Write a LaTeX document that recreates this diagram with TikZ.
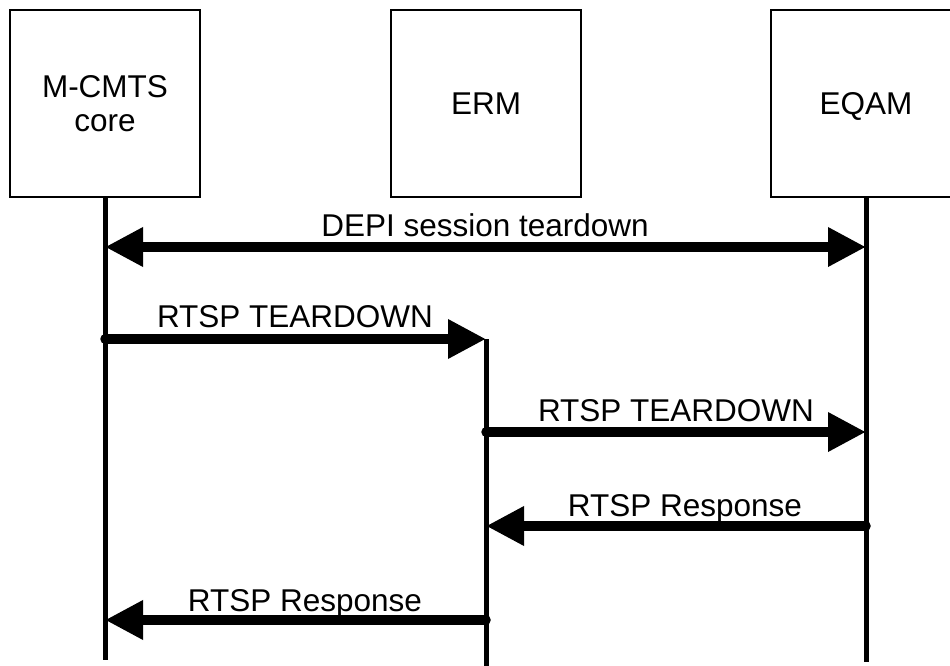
\documentclass[tikz,border=0pt]{standalone}
\usepackage{fontspec}
\setmainfont{Liberation Sans}
\usetikzlibrary{arrows.meta}
\begin{document}
\begin{tikzpicture}[x=1pt,y=-1pt,
  actor/.style={draw, line width=2pt, minimum width=190pt, minimum height=187pt, inner sep=0pt, align=center, font=\fontsize{31.5}{34}\selectfont},
  life/.style={line width=5pt},
  msg/.style={line width=9.5pt, line cap=round, -{Triangle[length=38pt,width=37pt]}},
  both/.style={line width=9.5pt, {Triangle[length=38pt,width=37pt]}-{Triangle[length=38pt,width=37pt]}},
  lbl/.style={anchor=base, font=\fontsize{31.5}{34}\selectfont, inner sep=0pt}]
\useasboundingbox (0,0) rectangle (950,666);
\node[actor] (cmts) at (105,103.5) {M-CMTS\\core};
\node[actor, text depth=0pt] (erm) at (486,103.5) {ERM};
\node[actor, text depth=0pt] (eqam) at (866,103.5) {EQAM};
% lifeline ends
\coordinate (cmtsTop) at (105,197);
\coordinate (cmtsBot) at (105,660);
\coordinate (ermTop) at (486,339);
\coordinate (ermBot) at (486,666);
\coordinate (eqamTop) at (866,197);
\coordinate (eqamBot) at (866,662);
\draw[life] (cmtsTop) -- (cmtsBot);
\draw[life] (ermTop) -- (ermBot);
\draw[life] (eqamTop) -- (eqamBot);
% message endpoints
\coordinate (a1) at (105,247); \coordinate (b1) at (866,247);
\coordinate (a2) at (105,339); \coordinate (b2) at (486,339);
\coordinate (a3) at (486,432); \coordinate (b3) at (866,432);
\coordinate (a4) at (866,526); \coordinate (b4) at (486,526);
\coordinate (a5) at (486,620); \coordinate (b5) at (105,620);
\draw[both] (a1) -- (b1);
\draw[msg] (a2) -- (b2);
\draw[msg] (a3) -- (b3);
\draw[msg] (a4) -- (b4);
\draw[msg] (a5) -- (b5);
% labels
\node[lbl] (l1) at (485,236) {DEPI session teardown};
\node[lbl] (l2) at (295,327) {RTSP TEARDOWN};
\node[lbl] (l3) at (676,421) {RTSP TEARDOWN};
\node[lbl] (l4) at (685,516) {RTSP Response};
\node[lbl] (l5) at (305,611) {RTSP Response};
\end{tikzpicture}
\end{document}
